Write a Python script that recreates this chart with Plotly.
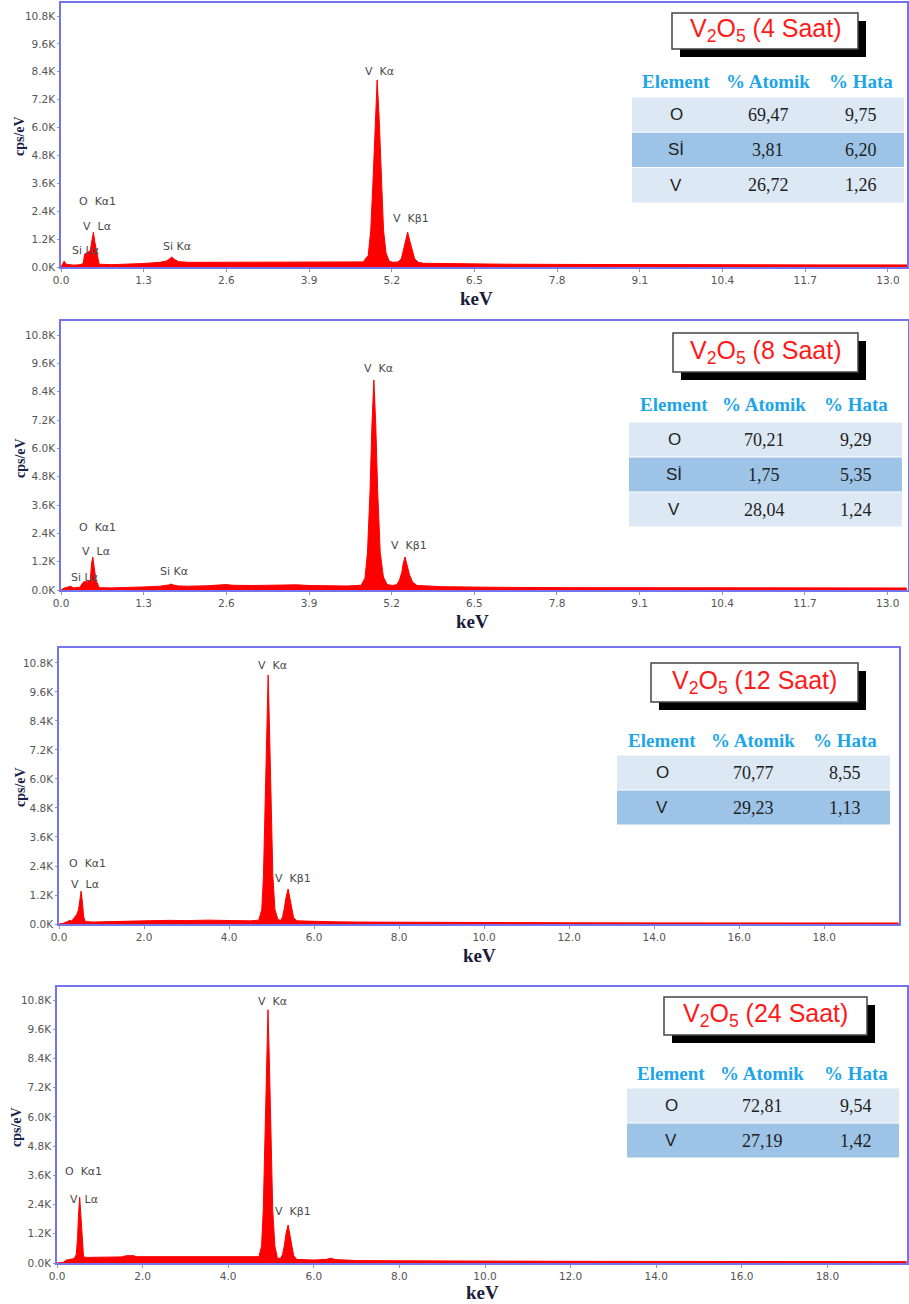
import plotly.graph_objects as go

# ---------------- data ----------------
# Panel 1 : V2O5 (4 Saat)
E1 = [0.00, 0.03, 0.05, 0.08, 0.20, 0.30, 0.35, 0.37, 0.42, 0.46,
      0.49, 0.51, 0.53, 0.56, 0.58, 0.60, 0.80, 1.00, 1.30, 1.55,
      1.65, 1.70, 1.74, 1.78, 1.85, 2.00, 2.30, 2.60, 3.00, 3.50,
      3.90, 4.50, 4.75, 4.83, 4.87, 4.91, 4.94, 4.97, 5.00, 5.03,
      5.07, 5.11, 5.16, 5.22, 5.30, 5.35, 5.38, 5.42, 5.45, 5.48,
      5.52, 5.56, 5.62, 5.70, 6.00, 6.50, 7.00, 8.00, 9.00, 10.0,
      11.0, 12.0, 13.3]
C1 = [0, 150, 250, 120, 80, 100, 150, 550, 650, 700,
      1200, 1500, 1100, 650, 500, 120, 100, 110, 150, 200,
      250, 330, 430, 330, 230, 200, 200, 220, 210, 220,
      200, 190, 220, 500, 1600, 4000, 6500, 8050, 6500, 4000,
      1600, 600, 250, 200, 220, 350, 700, 1150, 1500, 1150,
      700, 350, 200, 160, 150, 120, 120, 110, 100, 100,
      95, 90, 90]

# Panel 2 : V2O5 (8 Saat)
E2 = [0.00, 0.05, 0.10, 0.15, 0.20, 0.30, 0.34, 0.36, 0.42, 0.46,
      0.48, 0.50, 0.52, 0.55, 0.57, 0.60, 0.80, 1.00, 1.30, 1.55,
      1.65, 1.69, 1.73, 1.77, 1.85, 2.00, 2.30, 2.60, 2.70, 3.00,
      3.50, 3.70, 3.90, 4.50, 4.72, 4.78, 4.82, 4.86, 4.89, 4.92,
      4.95, 4.98, 5.02, 5.07, 5.13, 5.22, 5.28, 5.32, 5.36, 5.38,
      5.41, 5.44, 5.48, 5.53, 5.60, 6.00, 6.50, 7.00, 8.00, 9.00,
      10.0, 11.0, 12.0, 13.3]
C2 = [0, 80, 120, 160, 90, 120, 300, 350, 350, 400,
      1100, 1400, 1000, 400, 300, 100, 90, 100, 130, 160,
      180, 210, 250, 210, 170, 160, 180, 230, 200, 190,
      210, 220, 190, 170, 200, 500, 1600, 4200, 7000, 8900,
      7000, 4200, 1600, 550, 230, 190, 230, 400, 750, 1100,
      1400, 1100, 650, 330, 190, 140, 120, 110, 100, 100,
      95, 90, 90, 85]

# Panel 3 : V2O5 (12 Saat)
E3 = [0.00, 0.10, 0.20, 0.25, 0.30, 0.36, 0.42, 0.46, 0.49, 0.52,
      0.55, 0.58, 0.62, 0.80, 1.00, 1.50, 1.80, 2.00, 2.60, 3.00,
      3.50, 3.90, 4.50, 4.70, 4.77, 4.81, 4.85, 4.89, 4.92, 4.95,
      4.99, 5.03, 5.08, 5.15, 5.22, 5.26, 5.30, 5.34, 5.39, 5.43,
      5.47, 5.52, 5.60, 6.00, 6.50, 7.00, 8.00, 9.00, 10.0, 12.0,
      14.0, 16.0, 18.0, 19.75]
C3 = [0, 30, 100, 150, 120, 250, 400, 600, 1000, 1360,
      900, 300, 100, 80, 90, 110, 150, 130, 150, 140,
      160, 150, 130, 160, 600, 2000, 5000, 8200, 10300, 8200,
      5000, 2000, 600, 180, 150, 300, 650, 1100, 1450, 1100,
      650, 250, 130, 100, 90, 80, 70, 60, 55, 50,
      45, 40, 40, 40]

# Panel 4 : V2O5 (24 Saat)
E4 = [0.00, 0.15, 0.22, 0.30, 0.40, 0.45, 0.48, 0.50, 0.53, 0.56,
      0.59, 0.62, 0.70, 1.00, 1.50, 1.62, 1.80, 1.85, 2.50, 3.00,
      3.50, 4.00, 4.50, 4.72, 4.78, 4.82, 4.86, 4.90, 4.93, 4.96,
      5.00, 5.04, 5.09, 5.15, 5.22, 5.27, 5.31, 5.35, 5.40, 5.44,
      5.48, 5.53, 5.60, 6.00, 6.30, 6.40, 6.50, 7.00, 8.00, 9.00,
      10.0, 12.0, 14.0, 16.0, 18.0, 19.85]
C4 = [0, 30, 120, 150, 180, 350, 1000, 1900, 2700, 1900,
      800, 250, 230, 240, 250, 300, 300, 260, 260, 250,
      250, 240, 240, 260, 700, 2200, 5200, 8400, 10400, 8400,
      5200, 2200, 700, 200, 180, 350, 700, 1200, 1560, 1200,
      700, 300, 150, 120, 150, 200, 140, 100, 90, 80,
      75, 70, 65, 60, 55, 55]

# Tick labels
Y_TICKS = [0, 1200, 2400, 3600, 4800, 6000, 7200, 8400, 9600, 10800]
Y_LABELS = ["0.0K", "1.2K", "2.4K", "3.6K", "4.8K", "6.0K", "7.2K", "8.4K", "9.6K", "10.8K"]
X_TICKS_A = [0.0, 1.3, 2.6, 3.9, 5.2, 6.5, 7.8, 9.1, 10.4, 11.7, 13.0]
X_LABELS_A = ["0.0", "1.3", "2.6", "3.9", "5.2", "6.5", "7.8", "9.1", "10.4", "11.7", "13.0"]
X_TICKS_B = [0, 2, 4, 6, 8, 10, 12, 14, 16, 18]
X_LABELS_B = ["0.0", "2.0", "4.0", "6.0", "8.0", "10.0", "12.0", "14.0", "16.0", "18.0"]

# Peak labels (text, keV, cps)
PEAKS1 = [("O  Kα1", 0.25, 2840), ("V  Lα", 0.31, 1760), ("Si Lα", 0.14, 690),
          ("Si Kα", 1.57, 900), ("V  Kα", 4.75, 8430), ("V  Kβ1", 5.19, 2070)]
PEAKS2 = [("O  Kα1", 0.25, 2630), ("V  Lα", 0.30, 1650), ("Si Lα", 0.13, 510),
          ("Si Kα", 1.52, 800), ("V  Kα", 4.73, 9400), ("V  Kβ1", 5.16, 1900)]
PEAKS3 = [("O  Kα1", 0.19, 2520), ("V  Lα", 0.24, 1650),
          ("V  Kα", 4.64, 10700), ("V  Kβ1", 5.04, 1900)]
PEAKS4 = [("O  Kα1", 0.14, 3740), ("V  Lα", 0.26, 2600),
          ("V  Kα", 4.65, 10750), ("V  Kβ1", 5.05, 2100)]

# Titles and tables
TITLES = ["V<sub>2</sub>O<sub>5</sub> (4 Saat)", "V<sub>2</sub>O<sub>5</sub> (8 Saat)",
          "V<sub>2</sub>O<sub>5</sub> (12 Saat)", "V<sub>2</sub>O<sub>5</sub> (24 Saat)"]
TABLE_HEADER = ["Element", "% Atomik", "% Hata"]
ELEM1 = ["O", "Sİ", "V"];  AT1 = ["69,47", "3,81", "26,72"];  ERR1 = ["9,75", "6,20", "1,26"]
ELEM2 = ["O", "Sİ", "V"];  AT2 = ["70,21", "1,75", "28,04"];  ERR2 = ["9,29", "5,35", "1,24"]
ELEM3 = ["O", "V"];        AT3 = ["70,77", "29,23"];          ERR3 = ["8,55", "1,13"]
ELEM4 = ["O", "V"];        AT4 = ["72,81", "27,19"];          ERR4 = ["9,54", "1,42"]

# ---------------- layout geometry (pixels) ----------------
W, H = 909, 1304


def px(x):
    return x / W


def py(y):
    return 1 - y / H


panels = [
    dict(E=E1, C=C1, peaks=PEAKS1, dom_x=(61, 907), dom_y=(3, 267), xr=[0, 13.3], yr=[0, 11360],
         xt=(X_TICKS_A, X_LABELS_A), title=TITLES[0], box=(672, 13, 858, 49),
         table=(ELEM1, AT1, ERR1), hdr_y=82, rows_x=(632, 904), row_y0=97, row_h=35.3,
         cols=(676, 768, 861), cps=(20, 136), kev=(476, 298)),
    dict(E=E2, C=C2, peaks=PEAKS2, dom_x=(61, 908), dom_y=(321, 590), xr=[0, 13.32], yr=[0, 11393],
         xt=(X_TICKS_A, X_LABELS_A), title=TITLES[1], box=(673, 333, 858, 372),
         table=(ELEM2, AT2, ERR2), hdr_y=404, rows_x=(629, 902), row_y0=422, row_h=35,
         cols=(674, 764, 856), cps=(20, 458), kev=(472, 621)),
    dict(E=E3, C=C3, peaks=PEAKS3, dom_x=(59, 899), dom_y=(648, 924), xr=[0, 19.76], yr=[0, 11420],
         xt=(X_TICKS_B, X_LABELS_B), title=TITLES[2], box=(651, 663, 858, 702),
         table=(ELEM3, AT3, ERR3), hdr_y=740, rows_x=(617, 890), row_y0=755, row_h=35,
         cols=(662, 753, 845), cps=(20, 787), kev=(479, 955)),
    dict(E=E4, C=C4, peaks=PEAKS4, dom_x=(57, 907), dom_y=(987, 1263), xr=[0, 19.86], yr=[0, 11334],
         xt=(X_TICKS_B, X_LABELS_B), title=TITLES[3], box=(664, 997, 867, 1035),
         table=(ELEM4, AT4, ERR4), hdr_y=1073, rows_x=(627, 899), row_y0=1088, row_h=35,
         cols=(671, 762, 856), cps=(16, 1127), kev=(482, 1292)),
]

FRAME = "#7474ee"
TICKC = "#555555"
LIGHT = "#dde8f5"
DARK = "#9dc3e6"
HDR = "#1ea5e8"

fig = go.Figure()
layout = {}
shapes = []
annotations = []

for i, p in enumerate(panels):
    n = "" if i == 0 else str(i + 1)
    fig.add_trace(go.Scatter(
        x=p["E"], y=p["C"], xaxis="x" + n, yaxis="y" + n, mode="lines",
        fill="tozeroy", fillcolor="#ff0000", line=dict(color="#ff0000", width=1),
        hoverinfo="skip", showlegend=False))
    layout["xaxis" + n] = dict(
        domain=[px(p["dom_x"][0]), px(p["dom_x"][1])], range=p["xr"], anchor="y" + n,
        tickvals=p["xt"][0], ticktext=p["xt"][1], showline=True, mirror=True,
        linecolor=FRAME, linewidth=1.5, showgrid=False, zeroline=False,
        ticks="outside", ticklen=3, tickcolor="#999999", automargin=False,
        tickfont=dict(family="DejaVu Sans", size=10.5, color=TICKC), fixedrange=True)
    layout["yaxis" + n] = dict(
        domain=[py(p["dom_y"][1]), py(p["dom_y"][0])], range=p["yr"], anchor="x" + n,
        tickvals=Y_TICKS, ticktext=Y_LABELS, showline=True, mirror=True,
        linecolor=FRAME, linewidth=1.5, showgrid=False, zeroline=False,
        ticks="outside", ticklen=2, tickcolor="#999999", automargin=False,
        tickfont=dict(family="DejaVu Sans", size=10.5, color=TICKC), fixedrange=True)

    # peak labels
    for txt, xv, yv in p["peaks"]:
        annotations.append(dict(
            x=xv, y=yv, xref="x" + n, yref="y" + n, text=txt.replace(" ", "\u00a0"),
            showarrow=False, xanchor="left", yanchor="middle",
            font=dict(family="DejaVu Sans", size=11, color="#4a4a4a")))

    # axis titles
    annotations.append(dict(
        x=px(p["cps"][0]), y=py(p["cps"][1]), xref="paper", yref="paper", text="<b>cps/eV</b>",
        textangle=-90, showarrow=False, xanchor="center", yanchor="middle",
        font=dict(family="Liberation Serif", size=14, color="#1b1f4a")))
    annotations.append(dict(
        x=px(p["kev"][0]), y=py(p["kev"][1]), xref="paper", yref="paper", text="<b>keV</b>",
        showarrow=False, xanchor="center", yanchor="middle",
        font=dict(family="Liberation Serif", size=19, color="#1b1b3a")))

    # title box with shadow
    bx0, by0, bx1, by1 = p["box"]
    shapes.append(dict(type="rect", xref="paper", yref="paper",
                       x0=px(bx0 + 8), x1=px(bx1 + 8), y0=py(by1 + 8), y1=py(by0 + 8),
                       fillcolor="#000000", line=dict(width=0)))
    shapes.append(dict(type="rect", xref="paper", yref="paper",
                       x0=px(bx0), x1=px(bx1), y0=py(by1), y1=py(by0),
                       fillcolor="#ffffff", line=dict(color="#444444", width=1.5)))
    annotations.append(dict(
        x=px((bx0 + bx1) / 2), y=py((by0 + by1) / 2 - 1), xref="paper", yref="paper",
        text=p["title"], showarrow=False, xanchor="center", yanchor="middle",
        font=dict(family="Liberation Sans", size=25, color="#ff1a1a")))

    # table header
    for cx, htxt in zip(p["cols"], TABLE_HEADER):
        annotations.append(dict(
            x=px(cx), y=py(p["hdr_y"]), xref="paper", yref="paper", text="<b>" + htxt + "</b>",
            showarrow=False, xanchor="center", yanchor="middle",
            font=dict(family="Liberation Serif", size=19, color=HDR)))
    # table rows
    elems, ats, errs = p["table"]
    for r in range(len(elems)):
        ry0 = p["row_y0"] + r * p["row_h"]
        ry1 = ry0 + p["row_h"]
        shapes.append(dict(type="rect", xref="paper", yref="paper",
                           x0=px(p["rows_x"][0]), x1=px(p["rows_x"][1]),
                           y0=py(ry1 - 0.5), y1=py(ry0 + 0.5),
                           fillcolor=DARK if r % 2 == 1 else LIGHT, line=dict(width=0)))
        cy = (ry0 + ry1) / 2
        annotations.append(dict(
            x=px(p["cols"][0]), y=py(cy), xref="paper", yref="paper", text=elems[r],
            showarrow=False, xanchor="center", yanchor="middle",
            font=dict(family="Liberation Sans", size=17, color="#222222")))
        annotations.append(dict(
            x=px(p["cols"][1]), y=py(cy), xref="paper", yref="paper", text=ats[r],
            showarrow=False, xanchor="center", yanchor="middle",
            font=dict(family="Liberation Serif", size=18, color="#222222")))
        annotations.append(dict(
            x=px(p["cols"][2]), y=py(cy), xref="paper", yref="paper", text=errs[r],
            showarrow=False, xanchor="center", yanchor="middle",
            font=dict(family="Liberation Serif", size=18, color="#222222")))

fig.update_layout(
    width=W, height=H, margin=dict(l=0, r=0, t=0, b=0),
    paper_bgcolor="#ffffff", plot_bgcolor="#ffffff",
    showlegend=False, shapes=shapes, annotations=annotations, **layout)

fig.write_html(
    "out.html", config={"displayModeBar": False},
    post_script="document.body.style.margin='0px';document.body.style.padding='0px';"
                "document.documentElement.style.overflow='hidden';")
